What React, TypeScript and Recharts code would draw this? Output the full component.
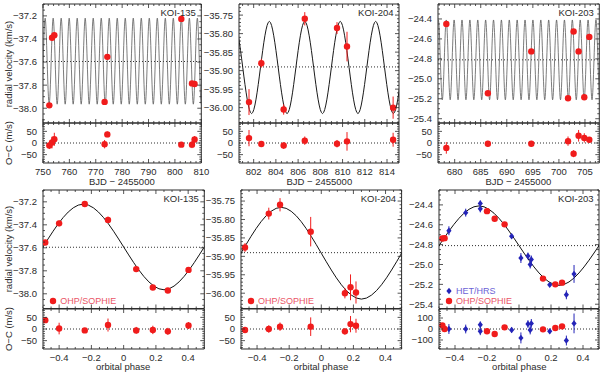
import React from 'react';
import {
  ComposedChart,
  Line,
  Scatter,
  XAxis,
  YAxis,
  ReferenceLine,
  ReferenceArea,
  ErrorBar,
} from 'recharts';

const FONT = '"Liberation Sans", Arial, sans-serif';
const INK = '#2b2b2b';
const RED = '#f01c1c';
const BLUE = '#2424b8';
const RED_TXT = '#ea5667';
const BLUE_TXT = '#6b62d6';

// ---------- KOI-135 : time series (BJD - 2455000) ----------
const k135Bjd = [752.4, 753.42, 754.29, 773.35, 774.38, 802.42, 806.47, 807.46];
const k135BjdRv = [-37.975, -37.39, -37.367, -37.945, -37.555, -37.226, -37.785, -37.79];
const k135BjdOc = [-11, 2, 16, -5, 37, -7, -7, 15];
const k135BjdErr = [15, 25, 28, 18, 12, 10, 15, 15];
const k135Peaks = [747.78, 750.816, 753.852, 756.888, 759.924, 762.96, 765.996, 769.032, 772.068, 775.104, 778.14, 781.176, 784.212, 787.248, 790.284, 793.32, 796.356, 799.392, 802.428, 805.464, 808.5, 811.536];
const k135Troughs = [749.298, 752.334, 755.37, 758.406, 761.442, 764.478, 767.514, 770.55, 773.586, 776.622, 779.658, 782.694, 785.73, 788.766, 791.802, 794.838, 797.874, 800.91, 803.946, 806.982, 810.018];
// ---------- KOI-135 : phase folded ----------
const k135Phase = [-0.486, -0.4, -0.241, -0.097, 0.078, 0.181, 0.274, 0.402];
const k135PhaseRv = [-37.554, -37.387, -37.219, -37.357, -37.785, -37.945, -37.972, -37.792];
const k135PhaseOc = [38, 2, -6, 17, -6, -4, -10, 15];
const k135PhaseErr = [12, 25, 10, 28, 15, 18, 15, 15];
const k135Max = -37.22;
const k135Min = -37.965;
const k135Sys = -37.595;

// ---------- KOI-204 ----------
const k204Bjd = [801.58, 802.69, 804.7, 806.6, 809.5, 810.4, 814.55];
const k204BjdRv = [-35.985, -35.88, -36.005, -35.76, -35.785, -35.835, -36.0];
const k204BjdOc = [21, -4, -11, 10, -3, 7, 14];
const k204BjdErr = [35, 12, 14, 18, 16, 40, 30];
const k204Peaks = [800.22, 803.41, 806.6, 809.79, 812.98, 816.17];
const k204Troughs = [798.625, 801.815, 805.005, 808.195, 811.385, 814.575, 817.765];
const k204Phase = [-0.475, -0.327, -0.257, -0.066, 0.147, 0.182, 0.216];
const k204PhaseRv = [-35.876, -35.784, -35.76, -35.833, -36.0, -35.984, -35.998];
const k204PhaseOc = [-4, 0, 10, 10, -10, 21, 14];
const k204PhaseErr = [12, 16, 18, 40, 14, 35, 30];
const k204Max = -35.767;
const k204Min = -36.016;
const k204Sys = -35.89;

// ---------- KOI-203 ----------
const k203Bjd = [678.4, 686.37, 694.7, 701.75, 702.82, 703.78, 704.87, 705.83];
const k203BjdRv = [-24.45, -25.145, -24.725, -25.195, -24.525, -24.725, -25.185, -24.58];
const k203BjdOc = [-21, -3, -3, 8, -46, 31, 22, 14];
const k203BjdErr = [25, 12, 12, 20, 15, 25, 20, 12];
const k203Peaks = [675.358, 676.87, 678.382, 679.894, 681.406, 682.918, 684.43, 685.942, 687.454, 688.966, 690.478, 691.99, 693.502, 695.014, 696.526, 698.038, 699.55, 701.062, 702.574, 704.086, 705.598, 707.11, 708.622];
const k203Troughs = [676.114, 677.626, 679.138, 680.65, 682.162, 683.674, 685.186, 686.698, 688.21, 689.722, 691.234, 692.746, 694.258, 695.77, 697.282, 698.794, 700.306, 701.818, 703.33, 704.842, 706.354, 707.866];
// SOPHIE (red) and HRS (blue) in phase
const k203Phase = [-0.479, -0.465, -0.2, -0.152, -0.09, 0.15, 0.227, 0.269];
const k203PhaseRv = [-24.738, -24.735, -24.463, -24.539, -24.596, -25.142, -25.2, -25.183];
const k203PhaseOc = [33, 0, -21, -45, 15, -3, 9, 24];
const k203PhaseErr = [15, 15, 15, 15, 12, 12, 15, 15];
const k203HrsPhase = [-0.438, -0.333, -0.242, -0.242, -0.046, 0.012, 0.056, 0.07, 0.077, 0.192, 0.296, 0.344];
const k203HrsRv = [-24.66, -24.478, -24.385, -24.44, -24.715, -24.935, -24.915, -25.0, -24.95, -25.205, -25.305, -25.095];
const k203HrsOc = [0, 0, 39, -21, -9, -81, 45, -9, 51, -21, -105, 51];
const k203HrsErr = [45, 40, 30, 35, 25, 50, 35, 40, 40, 20, 45, 90];
const k203Max = -24.41;
const k203Min = -25.21;
const k203Sys = -24.81;

// model extrema in phase
const phasePeaks = [-1.25, -0.25, 0.75];
const phaseTroughs = [-0.75, 0.25, 1.25];

type Ax = { domain: [number, number]; major: number[]; minor: number; digits: number };

const pts = (xs: number[], ys: number[], es: number[], scale: number) =>
  xs.map((x, i) => ({ x, y: ys[i], e: es[i] * scale }));
const model = (peaks: number[], troughs: number[], hi: number, lo: number) =>
  [...peaks.map((x) => ({ x, y: hi })), ...troughs.map((x) => ({ x, y: lo }))].sort((a, b) => a.x - b.x);

const minus = (s: string) => s.replace('-', '\u2212');
const fmt = (v: number, d: number) => (Math.abs(v) < 1e-9 ? '0' : minus(v.toFixed(d)));
const tickList = (ax: Ax) => {
  const out: number[] = [];
  const a = Math.ceil(ax.domain[0] / ax.minor - 1e-6);
  const b = Math.floor(ax.domain[1] / ax.minor + 1e-6);
  for (let k = a; k <= b; k++) out.push(Number((k * ax.minor).toFixed(6)));
  return out;
};
const isMajor = (v: number, ax: Ax) => ax.major.some((m) => Math.abs(m - v) < 1e-6);

// axes
const x135: Ax = { domain: [750, 810], major: [750, 760, 770, 780, 790, 800, 810], minor: 2, digits: 0 };
const x204: Ax = { domain: [800.68, 815.08], major: [802, 804, 806, 808, 810, 812, 814], minor: 0.5, digits: 0 };
const x203: Ax = { domain: [676.8, 707.75], major: [680, 685, 690, 695, 700, 705], minor: 1, digits: 0 };
const xPhase: Ax = { domain: [-0.5, 0.5], major: [-0.4, -0.2, 0, 0.2, 0.4], minor: 0.05, digits: 1 };
const y135: Ax = { domain: [-38.128, -37.097], major: [-38, -37.8, -37.6, -37.4, -37.2], minor: 0.05, digits: 1 };
const y204: Ax = { domain: [-36.0415, -35.72], major: [-36, -35.95, -35.9, -35.85, -35.8, -35.75], minor: 0.01, digits: 2 };
const y203: Ax = { domain: [-25.443, -24.25], major: [-25.4, -25.2, -25, -24.8, -24.6, -24.4], minor: 0.05, digits: 1 };
const yOc: Ax = { domain: [-86, 86], major: [-50, 0, 50], minor: 10, digits: 0 };
const yOcWide: Ax = { domain: [-182, 182], major: [-100, 0, 100], minor: 20, digits: 0 };

const PAD_L = 46;
const PAD_T = 2;
const PAD_R = 12;

type PlotProps = {
  l: number; r: number; t: number; b: number;
  x: Ax; y: Ax; xLabels: boolean; title?: string;
  children?: React.ReactNode;
};

function Plot({ l, r, t, b, x, y, xLabels, title, children }: PlotProps) {
  const w = r - l;
  const h = b - t;
  const padB = xLabels ? 16 : 2;
  const xTick = (p: any) => {
    const v = p.payload.value;
    const big = isMajor(v, x);
    const len = big ? 4 : 2;
    return (
      <g>
        <line x1={p.x} x2={p.x} y1={p.y} y2={p.y - len} stroke={INK} strokeWidth={0.8} />
        <line x1={p.x} x2={p.x} y1={p.y - h} y2={p.y - h + len} stroke={INK} strokeWidth={0.8} />
        {xLabels && big ? (
          <text x={p.x} y={p.y + 11.8} textAnchor="middle" fontSize={9.5} fontFamily={FONT} fill={INK}>
            {fmt(v, x.digits)}
          </text>
        ) : null}
      </g>
    );
  };
  const yTick = (p: any) => {
    const v = p.payload.value;
    const big = isMajor(v, y);
    const len = big ? 4 : 2;
    return (
      <g>
        <line x1={p.x} x2={p.x + len} y1={p.y} y2={p.y} stroke={INK} strokeWidth={0.8} />
        <line x1={p.x + w} x2={p.x + w - len} y1={p.y} y2={p.y} stroke={INK} strokeWidth={0.8} />
        {big ? (
          <text x={p.x - 6} y={p.y + 3.4} textAnchor="end" fontSize={9.5} fontFamily={FONT} fill={INK}>
            {fmt(v, y.digits)}
          </text>
        ) : null}
      </g>
    );
  };
  return (
    <div style={{ position: 'absolute', left: l - PAD_L, top: t - PAD_T }}>
      <ComposedChart
        width={w + PAD_L + PAD_R}
        height={h + PAD_T + padB}
        margin={{ top: PAD_T, right: PAD_R, bottom: 0, left: 0 }}
      >
        <XAxis
          type="number"
          dataKey="x"
          domain={x.domain}
          allowDataOverflow
          ticks={tickList(x)}
          interval={0}
          height={padB}
          tickSize={0}
          tickMargin={0}
          axisLine={false}
          tickLine={false}
          tick={xTick}
        />
        <YAxis
          type="number"
          dataKey="y"
          domain={y.domain}
          allowDataOverflow
          ticks={tickList(y)}
          interval={0}
          width={PAD_L}
          tickSize={0}
          tickMargin={0}
          axisLine={false}
          tickLine={false}
          tick={yTick}
        />
        <ReferenceArea
          x1={x.domain[0]}
          x2={x.domain[1]}
          y1={y.domain[0]}
          y2={y.domain[1]}
          fill="none"
          stroke={INK}
          strokeWidth={1}
          ifOverflow="visible"
          label={
            title
              ? { value: title, position: 'insideTopRight', offset: 5.5, fontSize: 9.5, fill: INK, fontFamily: FONT }
              : undefined
          }
        />
        {children}
      </ComposedChart>
    </div>
  );
}

const redDot = (p: any) => <circle cx={p.cx} cy={p.cy} r={3.2} fill={RED} />;
const blueDiamond = (p: any) => (
  <polygon
    points={`${p.cx},${p.cy - 3.2} ${p.cx + 2.6},${p.cy} ${p.cx},${p.cy + 3.2} ${p.cx - 2.6},${p.cy}`}
    fill={BLUE}
  />
);

const points = (data: any[], color: string, shape: any, key: string) => (
  <Scatter key={key} data={data} shape={shape} isAnimationActive={false}>
    <ErrorBar dataKey="e" direction="y" width={0} stroke={color} strokeWidth={1} />
  </Scatter>
);

const curve = (data: any[], color: string, width: number, key: string) => (
  <Line
    key={key}
    data={data}
    dataKey="y"
    type="monotone"
    stroke={color}
    strokeWidth={width}
    dot={false}
    activeDot={false}
    isAnimationActive={false}
  />
);

const dotted = (v: number, key: string) => (
  <ReferenceLine key={key} y={v} stroke={INK} strokeWidth={1} strokeDasharray="1 2" />
);

function Txt({ x, y, text, rotate, size = 9.5, color = INK }: any) {
  return (
    <div
      style={{
        position: 'absolute',
        left: x,
        top: y,
        transform: `translate(-50%, -50%)${rotate ? ' rotate(-90deg)' : ''}`,
        whiteSpace: 'nowrap',
        fontSize: size,
        color,
        lineHeight: 1,
      }}
    >
      {text}
    </div>
  );
}

function Key({ x, y, text, color, textColor, diamond }: any) {
  return (
    <div style={{ position: 'absolute', left: x - 4, top: y - 6, height: 12, display: 'flex', alignItems: 'center', whiteSpace: 'nowrap' }}>
      <svg width={8} height={12}>
        {diamond ? (
          <polygon points="4,2.8 6.6,6 4,9.2 1.4,6" fill={color} />
        ) : (
          <circle cx={4} cy={6} r={3.2} fill={color} />
        )}
      </svg>
      <span style={{ marginLeft: 3, fontSize: 9, color: textColor }}>{text}</span>
    </div>
  );
}

const TOP = { t: 4, m: 123, b: 163 };
const BOT = { t: 190, m: 308.5, b: 348.5 };
const TOP_COLS = [[42.7, 201], [239.3, 399.3], [437.7, 599]];
const BOT_COLS = [[42.5, 203.8], [240.7, 401.3], [439.3, 599.3]];

export default function App() {
  const phaseModel135 = model(phasePeaks, phaseTroughs, k135Max, k135Min);
  const phaseModel204 = model(phasePeaks, phaseTroughs, k204Max, k204Min);
  const phaseModel203 = model(phasePeaks, phaseTroughs, k203Max, k203Min);

  const top = [
    {
      x: x135, y: y135, title: 'KOI-135', sys: k135Sys, curveColor: '#5a5a5a', curveW: 0.8,
      model: model(k135Peaks, k135Troughs, k135Max, k135Min),
      rv: pts(k135Bjd, k135BjdRv, k135BjdErr, 0.001),
      oc: pts(k135Bjd, k135BjdOc, k135BjdErr, 1),
    },
    {
      x: x204, y: y204, title: 'KOI-204', sys: k204Sys, curveColor: '#1a1a1a', curveW: 1,
      model: model(k204Peaks, k204Troughs, k204Max, k204Min),
      rv: pts(k204Bjd, k204BjdRv, k204BjdErr, 0.001),
      oc: pts(k204Bjd, k204BjdOc, k204BjdErr, 1),
    },
    {
      x: x203, y: y203, title: 'KOI-203', sys: k203Sys, curveColor: '#5a5a5a', curveW: 0.8,
      model: model(k203Peaks, k203Troughs, k203Max, k203Min),
      rv: pts(k203Bjd, k203BjdRv, k203BjdErr, 0.001),
      oc: pts(k203Bjd, k203BjdOc, k203BjdErr, 1),
    },
  ];

  const bottom = [
    {
      y: y135, oc: yOc, title: 'KOI-135', sys: k135Sys, model: phaseModel135,
      red: pts(k135Phase, k135PhaseRv, k135PhaseErr, 0.001),
      redOc: pts(k135Phase, k135PhaseOc, k135PhaseErr, 1),
      blue: null as any, blueOc: null as any,
    },
    {
      y: y204, oc: yOc, title: 'KOI-204', sys: k204Sys, model: phaseModel204,
      red: pts(k204Phase, k204PhaseRv, k204PhaseErr, 0.001),
      redOc: pts(k204Phase, k204PhaseOc, k204PhaseErr, 1),
      blue: null as any, blueOc: null as any,
    },
    {
      y: y203, oc: yOcWide, title: 'KOI-203', sys: k203Sys, model: phaseModel203,
      red: pts(k203Phase, k203PhaseRv, k203PhaseErr, 0.001),
      redOc: pts(k203Phase, k203PhaseOc, k203PhaseErr, 1),
      blue: pts(k203HrsPhase, k203HrsRv, k203HrsErr, 0.001),
      blueOc: pts(k203HrsPhase, k203HrsOc, k203HrsErr, 1),
    },
  ];

  return (
    <div
      style={{
        position: 'absolute',
        left: 0,
        top: 0,
        width: 600,
        height: 372,
        background: '#fff',
        fontFamily: FONT,
        overflow: 'hidden',
      }}
    >
      {top.map((p, i) => {
        const [l, r] = TOP_COLS[i];
        return (
          <React.Fragment key={`top-${i}`}>
            <Plot l={l} r={r} t={TOP.t} b={TOP.m} x={p.x} y={p.y} xLabels={false} title={p.title}>
              {[
                dotted(p.sys, 'sys'),
                curve(p.model, p.curveColor, p.curveW, 'model'),
                points(p.rv, RED, redDot, 'rv'),
              ]}
            </Plot>
            <Plot l={l} r={r} t={TOP.m} b={TOP.b} x={p.x} y={yOc} xLabels>
              {[dotted(0, 'zero'), points(p.oc, RED, redDot, 'oc')]}
            </Plot>
            <Txt x={(l + r) / 2} y={182.3} text={'BJD \u2212 2455000'} />
          </React.Fragment>
        );
      })}

      {bottom.map((p, i) => {
        const [l, r] = BOT_COLS[i];
        const mainKids = [dotted(p.sys, 'sys'), curve(p.model, '#111', 1, 'model')];
        const ocKids = [dotted(0, 'zero')];
        if (p.blue) {
          mainKids.push(points(p.blue, BLUE, blueDiamond, 'blue'));
          ocKids.push(points(p.blueOc, BLUE, blueDiamond, 'blueOc'));
        }
        mainKids.push(points(p.red, RED, redDot, 'red'));
        ocKids.push(points(p.redOc, RED, redDot, 'redOc'));
        return (
          <React.Fragment key={`bot-${i}`}>
            <Plot l={l} r={r} t={BOT.t} b={BOT.m} x={xPhase} y={p.y} xLabels={false} title={p.title}>
              {mainKids}
            </Plot>
            <Plot l={l} r={r} t={BOT.m} b={BOT.b} x={xPhase} y={p.oc} xLabels>
              {ocKids}
            </Plot>
            <Txt x={(l + r) / 2} y={366.8} text="orbital phase" />
          </React.Fragment>
        );
      })}

      <Txt x={8.5} y={63.5} text="radial velocity (km/s)" rotate />
      <Txt x={8.5} y={143} text={'O\u2212C (m/s)'} rotate />
      <Txt x={8.5} y={249.2} text="radial velocity (km/s)" rotate />
      <Txt x={8.5} y={328.5} text={'O\u2212C (m/s)'} rotate />

      <Key x={53.3} y={301.3} text="OHP/SOPHIE" color={RED} textColor={RED_TXT} />
      <Key x={251} y={301.3} text="OHP/SOPHIE" color={RED} textColor={RED_TXT} />
      <Key x={449} y={291} text="HET/HRS" color={BLUE} textColor={BLUE_TXT} diamond />
      <Key x={449} y={301.3} text="OHP/SOPHIE" color={RED} textColor={RED_TXT} />
    </div>
  );
}
